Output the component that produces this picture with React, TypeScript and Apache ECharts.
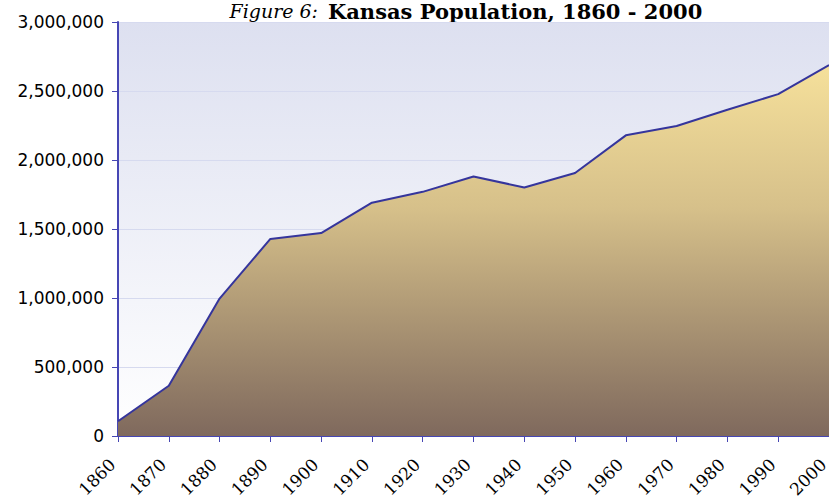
import React, { useEffect, useRef } from "react";
import * as echarts from "echarts";

const years = ["1860", "1870", "1880", "1890", "1900", "1910", "1920", "1930", "1940", "1950", "1960", "1970", "1980", "1990", "2000"];
const population = [107206, 364399, 996096, 1428108, 1470495, 1690949, 1769257, 1880999, 1801028, 1905299, 2178611, 2246578, 2363679, 2477574, 2688418];
const titlePrefix = "Figure 6:";
const titleMain = "Kansas Population, 1860 - 2000";

export default function App() {
  const ref = useRef<HTMLDivElement>(null);
  useEffect(() => {
    document.body.style.margin = "0";
    const chart = echarts.init(ref.current!, null, { renderer: "svg" });
    chart.setOption({
      animation: false,
      graphic: [
        {
          type: "text",
          x: 318,
          y: 11,
          style: { text: titlePrefix, font: "italic 19px 'DejaVu Serif'", fill: "#000", align: "right", verticalAlign: "middle" },
        },
        {
          type: "text",
          x: 328,
          y: 11,
          style: { text: titleMain, font: "bold 21px 'DejaVu Serif'", fill: "#000", align: "left", verticalAlign: "middle" },
        },
      ],
      grid: {
        left: 118,
        right: 0,
        top: 22,
        bottom: 63,
        outerBoundsMode: "none",
        containLabel: false,
        show: true,
        borderWidth: 0,
        backgroundColor: {
          type: "linear",
          x: 0, y: 0, x2: 0, y2: 1,
          colorStops: [
            { offset: 0, color: "#dde0f0" },
            { offset: 1, color: "#ffffff" },
          ],
        },
      },
      xAxis: {
        type: "category",
        data: years,
        boundaryGap: false,
        axisLine: { lineStyle: { color: "#4646b4", width: 2 } },
        axisTick: { show: true, alignWithLabel: true, length: 6, lineStyle: { color: "#4646b4", width: 1 } },
        axisLabel: {
          rotate: 45,
          color: "#000",
          fontFamily: "DejaVu Serif",
          fontSize: 17,
          margin: 20,
          padding: [0, 8, 0, 0],
          interval: 0,
          showMaxLabel: true,
          showMinLabel: true,
          hideOverlap: false,
        },
      },
      yAxis: {
        type: "value",
        min: 0,
        max: 3000000,
        interval: 500000,
        axisLine: { show: true, lineStyle: { color: "#4646b4", width: 2 } },
        axisTick: { show: true, length: 6, lineStyle: { color: "#4646b4", width: 1 } },
        splitLine: { show: true, lineStyle: { color: "#d6daef", width: 1 } },
        axisLabel: {
          color: "#000",
          fontFamily: "DejaVu Sans",
          fontSize: 17,
          margin: 14,
          formatter: (v: number) => v.toLocaleString("en-US"),
        },
      },
      series: [
        {
          type: "line",
          data: population,
          symbol: "none",
          lineStyle: { color: "#35359c", width: 2 },
          areaStyle: {
            opacity: 1,
            color: {
              type: "linear",
              global: true,
              x: 0, y: 22, x2: 0, y2: 436,
              colorStops: [
                { offset: 0, color: "#ffeaa0" },
                { offset: 0.45, color: "#d6c08a" },
                { offset: 1, color: "#7f695d" },
              ],
            },
          },
        },
      ],
    });
    return () => chart.dispose();
  }, []);
  return <div ref={ref} style={{ position: "absolute", left: 0, top: 0, width: 829, height: 499 }} />;
}
